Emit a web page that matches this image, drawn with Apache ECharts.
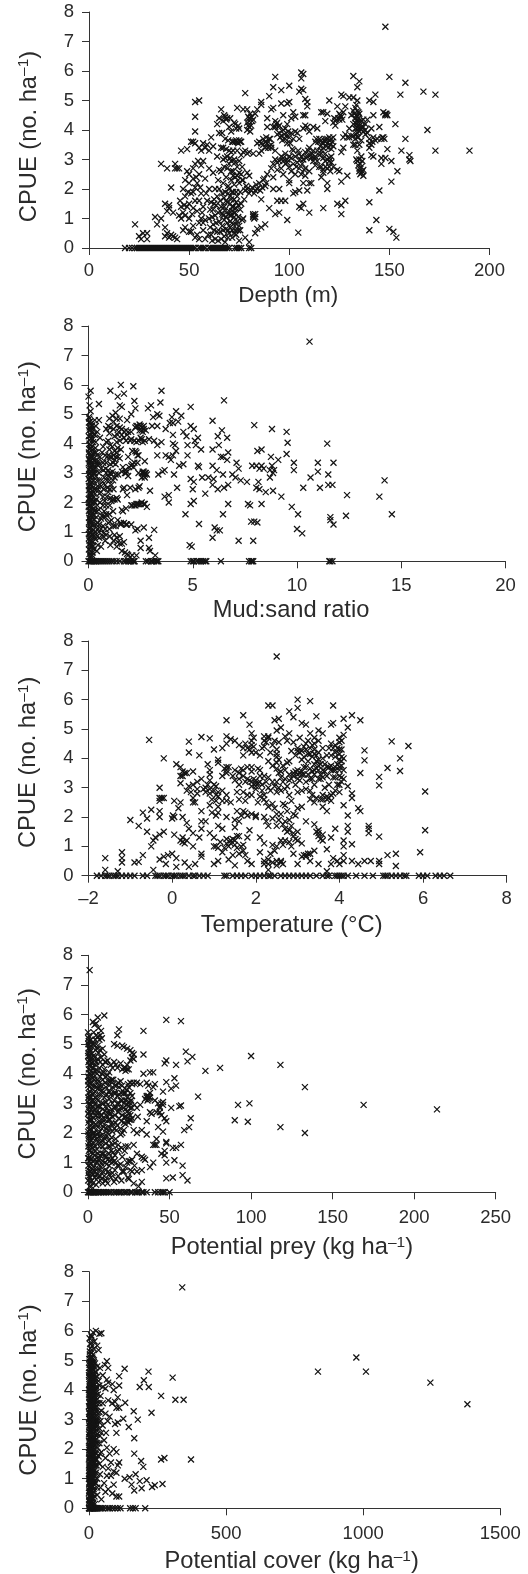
<!DOCTYPE html>
<html><head><meta charset="utf-8">
<style>html,body{margin:0;padding:0;background:#fff}#c{width:528px;height:1574px}</style>
<script src="https://cdn.jsdelivr.net/npm/echarts@6/dist/echarts.min.js"></script>
</head><body><div id="c"></div>
<script>
const yTicks = [0,1,2,3,4,5,6,7,8];

const depthZero = [18,20,21.5,23,24,25,26,27,28,29,30,31,32,33,34,35,36,37,38,39,40,41,42,43,44,45,46,47,48,49,50,51,52,53,55,56,57,58,60,61,62,63,64,65,66,67,68,69,70,73,74,75,76,80,81];
const depthPts = [[148,7.5],[150,5.8],[158,5.6],[167,5.3],[173,5.2],[155.5,5.2],[153,4.2],[169,4],[158,3.7],[156,3.3],[173,3.3],[190,3.3],[160,3],[160,3.15],[160.5,2.95],[154,2.6],[151,2.95],[151,2.25],[145,1.95],[140,1.55],[143.5,0.95],[140,0.6],[150,0.65],[152,0.55],[153.5,0.35],[126,1.15],[128,1.6],[124,1.5],[126,1.45],[117,1.35],[104.5,0.52],[105,1.4],[106,1.35],[107,1.5],[110,1.2],[99,0.95],[95,1.2],[93,1.15],[90,1.35],
[23,0.8],[25,0.4],[26,0.3],[27,0.5],[29,0.5],[29,0.3],[33,1.05],[34,0.8],[36,1],[36,2.85],[38,1.5],[38,0.7],[38,0.4],[39,2.7],[39,1.25],[40,1.35],[41,2.05],[41,0.45],[42,0.4],[43,0.35],[43,2.85],[43,2.7],[44,2.7],[45,2.7],[46,1.4],[45,1.1],[46,1],[46,3.3],[47,2],[47,0.6],[48,2.3],[48,1.75],[48,0.7],[49,3.35],[49,2.6],[50,2.2],[50,1.5],[50,1],[51,1.85],[51,0.55],[52,3.6],[52,2.7],[52,2.35],[52,1.35],[53,4.95],[53,4.45],[53,3.95],[53,3.55],[53,2.85],[53,2.05],[54,1.25],[54,0.45],[55,5],[55,3.4],[55,2.5],[55,0.85],[56,3.3],[56,2.8],[56,1.85],[56,1],[57,3.55],[57,1.4],[57,0.6],[58,2.35],[58,0.3],[59,3.5],[59,1.6],[60,3.3],[60,2.7],[60,2],[60,1],[61,3.75],[61,1.55],[61,0.45],[62,3.45],[62,2.55],[62,1.3],[62,0.8],[63,2],[63,1.1],[63,0.3],[64,4.2],[64,3.1],[64,1.75],[64,0.55],[65,4.4],[65,3.9],[65,2.65],[65,2],[65,0.9],[66,4.7],[66,3.4],[66,2.6],[66,1.4],[66,0.3],[67,4.3],[67,3],[67,2.2],[67,1.1],[67,0.6],[68,4.45],[68,3.7],[68,3.05],[68,1.9],[68,1.3],[68,0.2],[69,4.4],[69,3.1],[69,1.55],[69,0.85],[70,4.1],[70,3.3],[70,2],[70,1.25],[70,0.5],[71,3.95],[71,2.95],[71,2.3],[71,1.65],[71,1.1],[72,3.6],[72,2.6],[72,1.9],[72,1.4],[72,0.8],[73,4.2],[73,3.6],[73,2.4],[73,1.2],[73,0.6],[74,4.75],[74,3.6],[74,2.75],[74,1.75],[74,0.9],[75,4.05],[75,3.65],[75,2.2],[75,0.75],[75,0.25],[76,3.6],[76,2.5],[76,1.5],[77,4.7],[77,3.25],[77,2.3],[77,1],[78,5.25],[78,1.95],[78,0.35],[79,4.7],[79,4],[79,2.55],[79,2],[80,4.4],[80,4.3],[80,3.25],[80,2.45],[80,1.85],[80,0.2],[81,4.15],[81,1.95],[82,4.35],[82,3.2],[82,1.1],[82,1.05],[83,4.55],[83,1.15],[83,0.5],[83,1.95],[84,4.7],[84,2],[84,0.65],[85,3.6],[85,3.2],[85,2.2],[86,4.95],[86,4.85],[86,1.65],[86,0.7],[87,3.7],[87,2.3],[88,3.6],[88,2.1],[88,0.8],[89,4.1],[89,3.55],[89,2.5],[89,4.4],[90,5.15],[90,3.45],[91,4.7],[91,3.5],[91,2.7],[92,5.45],[92,4.75],[92,2.4],[92,2],[93,5.8],[93,4.1],[93,3.3],[94,4.25],[94,2.9],[94,1.6],[95,4.15],[95,2.95],[95,2],[96,5.35],[96,4.9],[96,3.8],[96,1.6],[97,4.5],[97,2.95],[97,2.5],[98,4.05],[98,3.7],[98,1.6],[99,4.9],[99,3.55],[99,3],[100,5.5],[100,4.95],[100,2.3],[100,2.2],[101,4.4],[101,3.9],[101,2.6],[102,4.6],[102,3.3],[102,1.85],[103,4.45],[103,3.1],[103,1.9],[104,3.9],[104,2.9],[105,5.3],[105,3.2],[105,1.95],[106,5.95],[106,5.75],[106,5.4],[106,2.5],[107,5.9],[107,5.35],[107,4.5],[107,3],[107,2.2],[108,5.05],[108,4.5],[108,3.25],[108,2.7],[108,2.45],[109,4.95],[109,4.8],[109,4.1],[109,3.1],[109,1.95],[110,3.95],[110,2.6],[110,2.2],[111,3.05],[111,2.2],[112,4.1],[112,3.3],[112,2.95],[113,3.6],[113,2.8],[114,4.05],[114,3.3],[115,3.7],[115,2.75],[116,4.6],[116,3.3],[116,2.4],[117,4.6],[117,3.4],[117,2.55],[118,4.3],[118,3.6],[118,3.2],[119,4.55],[119,3.55],[119,2.2],[119,2],[120,5],[120,3.65],[120,3.05],[120,2.75],[121,3.7],[121,3.1],[122,4.25],[122,3.75],[122,2.75],[123,4.15],[124,4.8],[124,2.65],[125,4.35],[125,2.6],[126,5.2],[126,4.45],[126,3.25],[126,2.25],[127,5.15],[127,4.6],[127,3.4],[128,3.85],[129,3.75],[129,2.45],[130,5.1],[131,3.8],[132,5.83],[132,5.1],[133,4.75],[133,4.4],[133,4.05],[133,3.7],[134,5.45],[134,5],[134,4.65],[134,4.3],[134,3.9],[134,2.95],[135,5.65],[135,4.55],[135,4.15],[135,3.5],[135,3],[135,2.6],[136,4.3],[136,3.65],[136,3.1],[136,2.75],[137,4.1],[137,2.65],[137,2.45],[138,4.2],[139,4.35],[139,3.9],[140,5],[140,3.55],[141,3.5],[141,3.15],[142,4.5],[142,3.1],[142,4.95],[143,5.2],[143,3.65],[145,4.1],[146,2.85],[147,3.75],[147,4.6],[148,4.5],[148,3.05],[149,4.5],[149,3.35]];
const depthDense = [[60.5,0.7],[61.5,1.05],[62.5,1.5],[63.5,0.85],[64.5,1.2],[64.5,0.25],[65.5,1.6],[66.5,0.75],[67.5,1.7],[67.5,0.95],[68.5,2.4],[68.5,0.65],[69.5,2.1],[69.5,1.15],[69.5,0.35],[70.5,1.75],[70.5,1.5],[70.5,0.9],[71.5,1.4],[71.5,1.25],[71.5,0.6],[72.5,2.15],[72.5,1.65],[72.5,1.05],[73.5,1.55],[73.5,1.35],[73.5,0.45],[74.5,1.05],[74.5,2.3],[75.5,1.3],[75.5,0.6],[76.5,0.95],[68.5,3.35],[69.5,3.65],[70.5,3.05],[71.5,3.6],[72.5,3],[73.5,3.65],[74.5,3.55],[75.5,3.6],[76.5,2.75],[74,2.45],[75,2.55],[72,2.45],[71,2.6],[66.5,3.9],[67.5,4.5],[68.5,4.35],[70.5,4.4],[72.5,4.25],[73.5,4.05],[74.5,4.15],[79.5,4.45],[80.5,4.55],[81.5,4.3],[79,4.25],[80.5,3.95],[81.5,2.05],[82.5,1.85],[83.5,2.15],[85.5,1.95],[86.5,2.05],[87.5,2.35],[88.5,2.2],[82,1.15],[82.5,1],[83,1.05],
[86,3.55],[87,3.5],[88.5,3.75],[89.5,3.4],[90.5,3.7],[91,3.4],[93.5,4.2],[94.5,4.1],[95.5,3.75],[96.5,3.65],[97.5,3.85],[98.5,3.8],[99.5,3.95],[100.5,3.55],[101.5,3.35],[96,3.1],[97,3.05],[98,2.85],[99,2.9],[100,3.1],[101,3.05],[102,2.85],[103.5,2.75],[104.5,3.3],[105.5,3],[106.5,2.85],[107.5,2.65],[108.5,3.05],[109.5,3.3],[110.5,3.15],[111.5,3.2],[112.5,3.05],[113.5,3.7],[114.5,3.6],[115.5,3.45],[116.5,3.55],[117.5,3.65],[118.5,3.45],[119.5,3.4],[120.5,3.5],[121.5,3.6],[116,3.2],[117,3.05],[118,2.95],[119,3],[120,2.95],[121,2.9],[116,2.75],[117,2.65],[118,2.75],[119,2.7],[120.5,2.6],[122.5,4.4],[123.5,4.35],[124.5,4.4],[125.5,4.5],[126.5,4.35],[132.5,4.55],[133,4.25],[133.5,4.85],[133.5,4.5],[133.5,4.2],[133.5,3.85],[134,4.45],[134,4.1],[134,3.75],[134.5,4.6],[134.5,4.4],[134.5,4.05],[134.5,3.75],[135,4.3],[135,3.95],[135.5,4.05],[136,4.1],[137,3.95],[138,4],[132,4.65],[132,4.2],[132,3.8],[133,3.5],[134.5,2.8],[135.5,2.85],[136.5,2.95],[135,2.7],[136,2.55],[141.5,3.6],[142,3.75],[146.5,3.75],[146,3.7],[147.5,3.7],[148.5,4.55],[148,4.55],[50,2.5],[51,3.6],[52,1.9],[53,1.6],[54,2.2],[55,1.6],[57,2.95],[58,3.4],[40,1.45],[39,0.5],[40,0.35],[42,1.2],[44,0.3],[47,1.2],[48,1.1],[49,1.4],[50,0.55],[52,0.75],[53,0.35],[55,0.3],[57,0.85],[58,0.95]];
const depthMore = [[45.5,1.6],[47.5,1.45],[49.5,1.9],[51.5,1.15],[53.5,2.4],[54.5,2.95],[55.5,2.05],[56.5,1.2],[58.5,1.85],[59.5,0.45],[60.5,1.3],[61.5,0.25],[62.5,0.6],[62.5,1.65],[63.5,1.45],[64.5,2.3],[65.5,0.55],[65.5,1.25],[66.5,1.15],[66.5,1.85],[67.5,0.4],[67.5,1.4],[68.5,1.05],[68.5,1.6],[69.5,0.6],[69.5,1.85],[70.5,0.7],[70.5,1.1],[71.5,0.35],[71.5,0.85],[71.5,1.9],[72.5,0.5],[72.5,1.2],[73.5,0.8],[73.5,1.9],[74.5,1.45],[74.5,0.6],[75.5,1.9],[76.5,2.3],[77.5,1.65],[78.5,2.1],[67,3.4],[67.5,2.75],[69,2.7],[70,2.85],[71,3.25],[72,3.3],[73,2.9],[74,3.3],[75,2.95],[76,3.15],[78,3.3],[79,3.2],[79.5,4.15],[80,4.1],[81,4.45],[84,3.55],[86,3.3],[88,3.4],[90,3.7],[92,4.1],[93,4.3],[94,3.85],[95,3.9],[97,4],[99,4.2],[100,3.75],[102,3.7],[103,3.95],[105,3.7],[92,2.85],[93,3],[94,2.65],[96,2.7],[98,3.2],[100,2.75],[103,2.5],[105,2.7],[106,3.1],[107,4.05],[108,4.15],[110,3.4],[113,3.1],[114,2.95],[115,3.15],[116,3.65],[118,3.7],[119,3.7],[120,3.75],[121,3.35],[122,3.45],[123,4.3],[125,4.55],[127,3.75],[128,4.8],[130,3.75],[130,4.05],[131,4.5],[132,3.5],[133.5,3],[134,3.3],[135.5,2.5],[136.5,2.6],[137,4.35],[138,3.85],[140,3.4],[140,3.7],[141,4.05],[144,3.7],[146,3.05]];

const mudZero = [0,0.05,0.1,0.15,0.2,0.25,0.3,0.35,0.4,0.5,0.6,0.7,0.8,0.9,1,1.1,1.2,1.35,1.5,1.7,1.8,1.9,2,2.05,2.15,2.2,2.2,2.75,2.85,3,3.05,3.15,3.25,3.3,3.35,4.9,5,5.05,5.2,5.3,5.4,5.5,5.6,5.65,6.35,7.7,7.8,7.85,7.9,11.55,11.6,11.7];
const mudPts = [[10.6,7.47],[0.1,5.8],[1.05,5.8],[1.55,6],[2.15,5.95],[1.7,5.7],[1.4,5.6],[2.2,5.45],[3.5,5.8],[0.5,5.35],[3,5.3],[3.45,5.4],[2.85,5.2],[4.9,5.25],[6.5,5.47],[4.2,5.1],[4,4.9],[4.45,4.95],[3.3,5],[3.4,4.95],[3.1,4.9],[5.95,4.78],[7.95,4.63],[8.8,4.5],[9.5,4.4],[9.55,4.03],[9.5,3.65],[8.75,3.55],[9.1,3.45],[9.85,3.35],[9.85,3.1],[11.45,4],[11,3.35],[11.75,3.35],[11,3.05],[11.5,2.95],[10.65,2.85],[10.3,2.5],[11.1,2.5],[11.5,2.6],[11.7,2.6],[12.4,2.25],[13.95,2.2],[14.2,2.75],[14.55,1.6],[12.35,1.55],[11.6,1.5],[11.6,1.4],[11.75,1.25],[10.05,1.6],[9.75,1.85],[9.25,2.2],[8.85,2.4],[10,1.1],[10.25,0.95],
[0,5.6],[0.05,5.3],[0.1,5.1],[0.02,4.9],[0.08,4.75],[0.15,4.6],[0.03,4.45],[0.12,4.3],[0.2,4.15],[0.05,4],[0.1,3.85],[0.02,3.7],[0.18,3.6],[0.25,3.5],[0.06,3.4],[0.14,3.25],[0.03,3.1],[0.22,3],[0.09,2.85],[0.16,2.7],[0.02,2.55],[0.28,2.45],[0.11,2.3],[0.05,2.15],[0.19,2],[0.01,1.85],[0.13,1.7],[0.24,1.55],[0.07,1.4],[0.17,1.25],[0.03,1.1],[0.1,0.95],[0.26,0.85],[0.05,0.7],[0.14,0.55],[0.02,0.4],[0.2,0.3],[0.09,0.15],[0.3,4.8],[0.35,4.05],[0.4,3.6],[0.35,3.2],[0.4,2.75],[0.32,2.3],[0.42,1.9],[0.38,1.5],[0.45,1.1],[0.33,0.75],[0.4,0.35],[0.5,4.8],[0.55,4.2],[0.55,3.55],[0.5,3],[0.6,2.55],[0.55,2],[0.6,1.45],[0.5,1],[0.6,0.5],[0.7,3.9],[0.7,3.35],[0.75,2.85],[0.7,2.2],[0.75,1.7],[0.7,1.2],[0.8,0.7],[0.85,4.5],[0.85,4.05],[0.9,3.55],[0.85,3],[0.9,2.5],[0.85,1.9],[0.95,1.3],[0.85,0.9],[1,4.85],[1,4.35],[1,3.8],[1.05,3.3],[1,2.75],[1.05,2.15],[1,1.6],[1,1.1],[1.05,0.55],[1.15,4.95],[1.2,4.5],[1.15,3.9],[1.2,3.6],[1.15,3.05],[1.2,2.45],[1.15,2.1],[1.2,1.2],[1.2,0.7],[1.3,5.05],[1.35,4.6],[1.35,4.05],[1.35,3.7],[1.3,3.3],[1.35,2.15],[1.35,0.5],[1.5,5.3],[1.5,4.85],[1.45,4.4],[1.55,3.8],[1.4,1.4],[1.5,0.85],[1.6,5.25],[1.6,4.5],[1.55,1.3],[1.6,0.35],[1.7,4.2],[1.75,3.1],[1.7,2.5],[1.65,1.7],[1.7,0.65],[1.85,4.8],[1.8,4.45],[1.8,4.1],[1.9,3.55],[1.8,3],[1.85,2.25],[1.8,1.8],[1.85,1.25],[1.85,0.25],[2.05,5],[2.05,4.4],[2,4.1],[2.05,3.25],[2,2.5],[2.05,1.9],[2.05,1.25],[2.1,0.2],[2.25,5.2],[2.3,4.6],[2.2,4.1],[2.25,3.75],[2.2,3.35],[2.25,2.45],[2.2,1.9],[2.25,1.05],[2.45,4.65],[2.5,4.2],[2.4,3.6],[2.4,3],[2.45,2.55],[2.4,1.95],[2.35,1.1],[2.5,0.7],[2.5,0.45],[2.65,4.6],[2.6,4.05],[2.7,3.4],[2.6,3],[2.55,2.85],[2.65,1.95],[2.65,1.15],[2.7,2.95],[2.8,1.85],[2.9,4.15],[2.9,0.8],[2.9,0.45],[2.95,2.4],[2.95,0.35],[3.05,4.6],[3.15,4.1],[3.15,1.07],[3.2,0.2],[3.3,4.6],[3.3,3.95],[3.3,3.6],[3.35,2.95],[3.5,4.05],[3.55,3.05],[3.65,3.1],[3.65,2.2],[3.7,4.5],[3.7,3.6],[3.85,3.55],[3.85,2.25],[3.85,2],[3.9,4.7],[3.95,3.45],[4.05,4.7],[4.05,4.3],[4.05,4],[4.05,3.6],[4.1,2.95],[4.2,3.75],[4.15,3.95],[4.25,2.5],[4.3,4.75],[4.35,3.25],[4.55,4.4],[4.55,3.3],[4.65,1.6],[4.7,4.25],[4.75,3.95],[4.75,3.6],[4.85,0.55],[4.9,4.6],[4.9,2.8],[4.9,1.95],[4.95,0.5],[5.05,4.5],[5.05,2.7],[5,2.45],[5.05,2.05],[5.1,4.1],[5.15,3.95],[5.25,4.2],[5.25,3.25],[5.3,1.27],[5.3,3.2],[5.4,3.8],[5.45,2.85],[5.6,2.3],[5.75,2.85],[5.95,3.8],[5.95,3.25],[5.95,2.6],[6,2.8],[5.95,0.8],[6.05,1.15],[6.15,3.1],[6.15,1.05],[6.2,2.45],[6.2,4.25],[6.25,3.95],[6.3,1.05],[6.35,3.55],[6.4,4.45],[6.45,3.55],[6.45,2.95],[6.45,1.6],[6.5,2.5],[6.65,4.2],[6.65,3.45],[6.7,3.7],[6.7,2.6],[6.7,1.95],[6.9,2.95],[7.05,2.85],[7.1,3.35],[7.2,3.15],[7.2,0.7],[7.3,2.75],[7.6,2.7],[7.65,1.95],[7.75,1.9],[7.8,1.35],[7.85,3.25],[7.9,0.7],[7.95,1.35],[8.05,3.25],[8.05,2.5],[8.1,3.75],[8.1,1.32],[8.15,2.7],[8.2,3.15],[8.2,2.45],[8.3,3.8],[8.3,3.25],[8.3,1.95],[8.4,3.15],[8.5,2.35],[8.7,3.1],[8.7,2.85],[8.8,3.25],[8.85,3],[8.9,3.1]];
const mudDense = [[0.04,4.85],[0.12,4.68],[0.06,4.55],[0.2,4.5],[0.15,4.38],[0.01,4.25],[0.1,4.18],[0.22,4.05],[0.08,3.95],[0.16,3.78],[0.28,3.72],[0.05,3.62],[0.13,3.52],[0.3,3.42],[0.01,3.33],[0.2,3.28],[0.1,3.18],[0.27,3.1],[0.07,3.02],[0.16,2.94],[0.01,2.8],[0.25,2.75],[0.12,2.62],[0.05,2.48],[0.2,2.38],[0.08,2.24],[0.15,2.1],[0.25,2.05],[0.03,1.98],[0.12,1.9],[0.2,1.78],[0.06,1.62],[0.16,1.52],[0.28,1.42],[0.02,1.32],[0.1,1.18],[0.22,1.05],[0.06,1],[0.14,0.85],[0.02,0.78],[0.2,0.65],[0.1,0.48],[0.27,0.42],[0.05,0.25],[0.15,0.1],[0.35,4.6],[0.42,4.4],[0.33,3.85],[0.45,3.4],[0.3,3],[0.45,2.55],[0.38,2.1],[0.3,1.7],[0.45,1.3],[0.35,1],[0.45,0.55],[0.65,3.7],[0.6,3.15],[0.68,2.7],[0.6,2.35],[0.7,1.9],[0.65,1.55],[0.6,1.1],[0.7,0.85],[0.8,3.6],[0.82,3.15],[0.8,2.6],[0.78,2.05],[0.8,1.5],[0.8,1.1],[0.95,4.6],[0.95,4.1],[0.95,3.6],[0.95,3.1],[0.95,2.9],[0.95,2.35],[1.05,4.55],[1.05,3.95],[1.1,3.55],[1.1,2.95],[1.1,2.6],[1.1,2.05],[1.1,1.4],[1.2,4.75],[1.25,4.25],[1.25,3.75],[1.25,3.45],[1.25,2.85],[1.25,2.1],[1.25,0.9],[1.35,4.85],[1.4,4.3],[1.4,3.85],[1.4,3.55],[1.4,2.1],[1.35,0.8],[1.5,4.55],[1.5,4.1],[1.6,4.3],[1.7,4.4],[1.9,4.4],[1.95,3.2],[1.85,3.05],[1.9,2.9],[1.75,3],[2.1,3.3],[2.15,3.2],[2.3,3.7],[2.35,3.6],[2.45,4.45],[2.5,4.6],[2.55,4.55],[2.6,4.4],[2.65,4.5],[2.55,4.15],[2.6,3.05],[2.65,2.9],[2.7,3],[2.65,3.05],[2.5,1.95],[2.55,2],[2.35,1.95],[2.25,1.9],[2.1,1.9],[1.6,1.75],[1.55,1.25],[1.7,1.3],[1.8,1.25],[2.3,0.2],[2,0.15],[1.9,0.2],[1.75,0.3],[1.4,0.65],[1.5,0.6],[1.6,0.6]];
const mudMore = [[0.02,4.72],[0.18,4.62],[0.09,4.48],[0.25,4.32],[0.04,4.12],[0.17,3.88],[0.03,3.82],[0.23,3.65],[0.11,3.58],[0.02,3.47],[0.19,3.38],[0.08,3.3],[0.25,3.2],[0.13,3.05],[0.03,2.97],[0.2,2.88],[0.06,2.72],[0.14,2.55],[0.23,2.52],[0.02,2.42],[0.09,2.35],[0.17,2.28],[0.01,2.12],[0.22,2.16],[0.1,2.02],[0.05,1.88],[0.17,1.85],[0.27,1.72],[0.02,1.72],[0.09,1.55],[0.2,1.45],[0.04,1.48],[0.13,1.32],[0.24,1.22],[0.08,1.12],[0.16,1.02],[0.02,0.92],[0.21,0.92],[0.08,0.82],[0.16,0.7],[0.03,0.58],[0.23,0.52],[0.09,0.35],[0.18,0.2],[0.32,4.3],[0.36,3.7],[0.42,3.3],[0.36,2.9],[0.4,2.45],[0.32,2],[0.4,1.7],[0.36,1.25],[0.42,0.85],[0.52,3.3],[0.5,2.75],[0.52,2.3],[0.5,1.75],[0.52,1.25],[0.52,0.8],[0.72,3.1],[0.72,2.45],[0.7,1.5],[0.72,0.95],[0.85,3.35],[0.88,2.75],[0.88,2.2],[0.85,1.6],[1.02,3.55],[1.02,3],[1.02,2.45],[1.02,1.9],[1.02,1.35],[1.02,0.85],[1.18,3.35],[1.18,2.75],[1.18,1.7],[1.3,3.55],[1.3,2.95],[1.3,1.2],[1.42,2.95],[1.5,3.5],[1.6,3.05],[1.65,3.2],[1.65,2.45],[1.85,4.3],[2.05,4.15],[2.1,3.75],[2.25,4.55],[2.3,4.05],[2.4,4.1],[2.35,4.6],[2.55,4.45],[2.75,4.45],[2.7,4.1],[2.75,3],[2.8,2.95],[2.7,2.85],[2.7,1.95],[2.3,1.95],[2.4,2.5],[2.35,3.35]];

const tempZero = [-1.8,-1.7,-1.6,-1.55,-1.5,-1.4,-1.35,-1.3,-1.2,-1.1,-1,-0.9,-0.7,-0.6,-0.4,-0.35,-0.3,-0.2,-0.15,-0.1,0,0.05,0.1,0.2,0.25,0.3,0.4,0.5,0.55,0.65,0.75,0.85,1.25,1.3,1.45,1.55,1.65,1.75,1.9,2,2.1,2.2,2.3,2.35,2.45,2.6,2.7,2.8,2.9,3,3.1,3.2,3.3,3.45,3.6,3.7,3.75,3.9,3.95,4,4.05,4.1,4.2,4.4,4.6,4.8,5.05,5.1,5.15,5.25,5.35,5.45,5.55,5.6,5.9,6,6.1,6.3,6.4,6.5,6.65];
const tempPts = [[2.5,7.47],[3,6],[3.3,5.95],[2.3,5.8],[2.4,5.8],[3,5.72],[3.85,5.8],[2.8,5.6],[1.7,5.47],[3.45,5.43],[4.3,5.47],[4.1,5.35],[2.55,5.35],[1.3,5.3],[2.45,5.3],[4.5,5.3],[3.8,5.15],[3.85,5.2],[3.1,5.2],[1.85,5.15],[4.2,5.05],[-0.55,4.63],[0.4,4.57],[0.7,4.73],[0.9,4.68],[1.3,4.75],[5.25,4.58],[5.65,4.42],[4.6,4.27],[4.6,3.93],[5.45,4],[5.45,3.57],[5.15,3.67],[4.95,3.37],[4.95,3.08],[6.05,2.87],[6.05,1.55],[5.93,0.8],[5.15,0.7],[5.35,0.75],[5.35,0.33],[4.95,0.5],[4.95,0.4],[4.75,0.5],[4.6,0.5],[4.45,0.4],[4.3,0.5],[4.95,1.33],[4.3,1.07],[4.7,1.6],[4.7,1.45],[4.7,1.7],[4.45,2.3],[4.5,2.2],[4.5,3.5],[4.3,2.8],[4.3,2.65],[4.2,3.05],[4.2,2.05],[4.2,1.7],[4.2,1.5],[4.1,1.2],[4.1,1],[4.1,0.7],[-1.6,0.6],[-1.6,0.2],[-1.2,0.8],[-1.2,0.6],[-1.2,0.45],[-1.3,0.15],[-0.9,0.45],[-0.8,0.47],[-0.7,0.7],[-0.45,0.2],[-1,1.9],[-0.8,1.7],[-0.7,2.15],[-0.6,1.95],[-0.6,1.5],[-0.5,2.25],[-0.5,1],[-0.45,1.2],[-0.4,1.3],[-0.3,2.2],[-0.3,2],[-0.3,1.4],[-0.3,0.55],[-0.3,3],[-0.3,2.65],[-0.2,2.65],[-0.2,4],[-0.2,1.5],[-0.2,0.65],[-0.15,0.4],[-0.1,0.7],[0,0.75],[0.05,1.4],[0.05,2],[0.05,2.55],[0.1,3.8],[0.1,0.6],[0.1,0.3],[0.15,2.3],[0.2,3.7],[0.2,3.15],[0.2,2.5],[0.25,2],[0.25,1.3],[0.25,1.15],[0.3,0.45],[0.3,3.5],[0.35,3.5],[0.35,2.9],[0.35,1.8],[0.4,4.2],[0.4,1.6],[0.4,0.3],[0.5,3.55],[0.5,3.1],[0.5,2.5],[0.5,1.45],[0.5,1],[0.55,0.4],[0.6,3.2],[0.6,2.8],[0.65,4.1],[0.7,3.3],[0.7,2.2],[0.7,1.6],[0.7,1.85],[0.7,0.75],[0.7,0.65],[0.8,3],[0.8,2.85],[0.8,1.85],[0.85,3.8],[0.9,3.6],[0.9,3.25],[0.9,2.95],[0.9,2.4],[0.9,1.45],[0.95,2.15],[1,4.3],[1,3.1],[1,1.3],[1,0.4],[1.05,2.05],[1.05,1],[1.1,3.95],[1.1,3.85],[1.1,2.7],[1.1,1.7],[1.1,0.95],[1.1,0.5],[1.2,4.35],[1.2,3.4],[1.2,2.9],[1.2,1.6],[1.2,0.8],[1.3,4.5],[1.3,3.7],[1.3,3.5],[1.3,2.55],[1.3,2],[1.3,1.1],[1.35,0.55],[1.4,4.65],[1.4,2.5],[1.4,1.2],[1.5,4.6],[1.5,3.6],[1.5,1.9],[1.5,1.05],[1.5,0.35],[1.6,4.45],[1.6,3.3],[1.6,2.6],[1.6,1.35],[1.6,0.75],[1.7,4.1],[1.7,3.6],[1.7,2.2],[1.7,1.05],[1.8,4.35],[1.8,3.3],[1.8,2.05],[1.8,1.3],[1.8,0.5],[1.9,4.85],[1.9,4.45],[1.9,3.7],[1.9,3.2],[1.9,2.75],[1.9,0.4],[2,4.2],[2,3.15],[2,2.95],[2,2],[2.1,4.1],[2.1,3.4],[2.1,2.7],[2.1,1.3],[2.1,0.8],[2.2,4.75],[2.2,4.4],[2.2,3.4],[2.2,2.6],[2.2,2],[2.2,1.1],[2.2,0.4],[2.3,4.7],[2.3,3.9],[2.3,3],[2.3,1.7],[2.3,0.55],[2.3,0.2],[2.4,4.45],[2.4,3.2],[2.4,2.45],[2.4,1.95],[2.4,1.05],[2.5,4.3],[2.5,4.95],[2.5,3.85],[2.5,2.85],[2.5,1.7],[2.5,1],[2.6,5.05],[2.6,3.55],[2.6,2.9],[2.6,2.1],[2.6,1.2],[2.6,0.45],[2.7,4.75],[2.7,3.3],[2.7,2.4],[2.7,1.6],[2.8,4.85],[2.8,3.9],[2.8,3.45],[2.8,2.75],[2.8,1.9],[2.8,1.15],[2.9,5.4],[2.9,4.55],[2.9,3.5],[2.9,2.1],[2.9,1.35],[2.9,0.75],[3,4.25],[3,3.6],[3,3.45],[3,1.5],[3,0.4],[3.1,4.25],[3.1,3.45],[3.1,2.35],[3.1,0.65],[3.2,5.15],[3.2,4.5],[3.2,3.7],[3.2,2.95],[3.2,1.85],[3.2,0.7],[3.3,4.85],[3.3,3.65],[3.3,2.6],[3.3,0.5],[3.4,4.5],[3.4,4.15],[3.4,3.45],[3.4,2.5],[3.4,1.75],[3.4,0.85],[3.5,4.95],[3.5,3.75],[3.5,3.3],[3.5,1.35],[3.5,0.4],[3.6,4.85],[3.6,4],[3.6,2.75],[3.6,1.4],[3.7,3.7],[3.7,2.6],[3.7,2.2],[3.7,0.9],[3.7,0.15],[3.8,4.5],[3.8,3.6],[3.8,2.75],[3.8,1.3],[3.8,0.4],[3.85,0.6],[3.9,4.2],[3.9,3.6],[3.9,2.9],[3.9,1.6],[3.95,0.5],[4,4.7],[4,4.3],[4,3.7],[4,3.1],[4,0.4],[4.05,4.05],[4.1,4.8],[4.1,4],[4.1,3.6],[4.1,2.4],[4.1,0.5]];
const tempDense = [[1.7,4.35],[1.75,4.5],[1.85,4.3],[1.9,4.6],[1.9,4.2],[1.95,4.4],[1.7,3.4],[1.75,3.2],[1.85,3.25],[1.9,3.05],[1.95,3.3],[2,3.25],[2,3.05],[2.05,3.15],[2.1,3.2],[2.15,2.9],[2.2,2.75],[2.2,4.6],[2.25,4.55],[2.25,2.5],[2.3,4.75],[1.3,3.6],[1.35,3.7],[1.3,1.25],[1.4,1.1],[1.45,1.25],[1.5,1.2],[1.55,0.95],[1.65,1],[1.7,0.85],[1.6,3.5],[1.65,3.65],[1.6,3.1],[1,2.9],[1.05,2.75],[1.05,2.55],[1.1,2.35],[1.1,2.15],[0.9,2.8],[0.9,3.45],[1.65,2.05],[1.75,2.15],[1.9,2.1],[2,2.05],[2.5,4.15],[2.5,4.05],[2.5,3.65],[2.5,3.2],[2.55,3.5],[2.55,3],[2.65,3.2],[2.7,2.95],[2.75,3.05],[2.5,2.1],[2.55,1.9],[2.65,1.75],[2.7,1.85],[2.75,1.5],[2.8,1.55],[2.85,1.7],[2.9,1.45],[2.95,1.25],[2.7,1.2],[2.4,0.45],[2.5,0.5],[2.2,0.5],[2.3,0.4],[2.6,0.5],[2.65,0.4],[2.9,3.4],[2.95,3.55],[3,3.3],[3.05,3.5],[3.1,3.55],[3.15,3.45],[3,4.35],[3.05,4.2],[3.15,4.4],[3.2,4.3],[3.25,4.6],[3.3,4.35],[3.3,4.15],[3.35,4.45],[3.35,4.05],[3.4,4.3],[3.45,4.1],[3.45,3.9],[3.45,3.65],[3.4,3.8],[3.4,3.6],[3.5,4.2],[3.5,3.95],[3.5,3.6],[3.55,3.8],[3.55,3.45],[3.55,3.3],[3.35,3.3],[3.6,3.6],[3.65,3.55],[3.75,3.7],[3.8,3.75],[3.85,3.6],[3.9,3.7],[4,4.55],[4,4.15],[4,3.95],[4,3.6],[4.05,4.3],[4.05,3.9],[3.95,4.35],[3.9,4.05],[3.6,2.6],[3.7,2.7],[3.75,2.65],[3.8,2.55],[3.85,2.8],[3.45,1.5],[3.5,1.45],[3.55,1.25],[3.2,0.65],[3.25,0.75],[3.15,0.7],[4.05,3.35],[4.05,3.2],[0.5,2.65],[0.55,2.5],[0.25,3.55],[0.2,3.4],[0.25,3.4],[-0.25,2.65],[-0.3,2.55],[0,1.95],[0.02,2.05],[0.2,1.2],[0.3,1.1],[0.35,1.2]];
const tempMore = [[1.05,3.05],[1.1,2.85],[1.2,2.55],[1.25,3.65],[1.3,2.75],[1.45,3.4],[1.5,3.25],[1.55,2.85],[1.55,2.2],[1.5,1.65],[1.6,1.85],[1.7,2.85],[1.75,2.55],[1.8,3.7],[1.8,2.75],[1.85,1.55],[1.9,3.55],[1.95,4.7],[2.05,3.65],[2.05,2.5],[2.1,3.6],[2.15,4.35],[2.15,3.1],[2.25,3.2],[2.25,1.85],[2.3,3.35],[2.3,2.35],[2.35,4.2],[2.35,2.9],[2.4,3.75],[2.45,4.6],[2.45,3.05],[2.45,2.3],[2.55,4.55],[2.55,3.95],[2.6,3.35],[2.65,3.75],[2.65,2.45],[2.7,3.6],[2.75,4.6],[2.75,3.85],[2.75,2.2],[2.8,3.25],[2.85,4.25],[2.85,3.3],[2.85,2.55],[2.95,4.1],[2.95,3.1],[2.95,2.05],[3,2.85],[3,2.3],[3.05,4.7],[3.05,3.25],[3.1,3.95],[3.1,2.9],[3.15,4.05],[3.15,3.7],[3.2,3.2],[3.25,4.15],[3.25,3.9],[3.25,3.45],[3.3,3.3],[3.3,2.9],[3.35,3.55],[3.35,2.75],[3.4,4.7],[3.4,3.1],[3.45,2.65],[3.5,4.6],[3.55,2.6],[3.6,4.35],[3.6,3.35],[3.6,2.35],[3.65,3.8],[3.65,3],[3.7,4.1],[3.7,3.4],[3.75,4.35],[3.75,3.1],[3.8,4.1],[3.85,4.35],[3.85,3.35],[3.9,4.45],[3.9,3.35],[3.95,3.8],[3.95,3.1],[4,3.4],[4,2.85],[4.05,4.6],[4.05,3.75],[4.1,3.3],[0.4,3.05],[0.45,2.85],[0.6,2.95],[0.75,2.95],[0.85,3.1],[0.95,2.6],[0.65,1.3],[1,1],[1.15,1.15],[1.25,0.95],[1.35,1],[1.45,0.7],[1.55,1.35],[1.75,0.7],[2.35,0.75],[2.45,0.85],[2.5,0.35],[2.65,1.05],[2.85,1],[3,1.2],[3.1,1.1],[3.3,0.75],[3.5,1.55],[3.6,1.2]];

const preyZero = [0,0.5,1,1.5,2,2.5,3,3.5,4,4.5,5,6,6.5,7,8,9,10,11,12,13,14,16,17,18,19,20,22,23,24,26,27,29,30,31,33,34,36,41,43,45,46,47,50];
const preyPts = [[1,7.5],[10,5.97],[6,5.9],[3,5.75],[48,5.82],[57,5.78],[19,5.5],[34,5.45],[18,5.3],[60,4.75],[34,4.65],[100,4.6],[64,4.57],[61,4.42],[48,4.45],[47,4.35],[54,4.3],[118,4.3],[81,4.2],[72,4.1],[53,3.85],[48,3.72],[54,3.6],[133,3.55],[51,3.5],[46,3.4],[67.5,3.23],[99,3],[92,2.95],[57,2.93],[56,2.9],[169,2.95],[214,2.8],[51,2.85],[63,2.5],[90,2.43],[98,2.38],[62,2.2],[59,2.1],[118,2.2],[133,2],[57,1.6],[54,1.5],[52,1.5],[53,1.08],[58,0.9],[58,0.58],[61,0.4],[52,0.5],[48,0.47],
[0,5.4],[0.5,5.1],[1,4.9],[0.3,4.7],[1.5,4.5],[0.7,4.3],[2,4.1],[0.2,3.9],[1.2,3.7],[2.5,3.5],[0.4,3.35],[1.8,3.2],[0.6,3],[2.2,2.8],[0.1,2.65],[1.4,2.45],[2.8,2.3],[0.8,2.1],[0.3,1.95],[1.7,1.75],[2.4,1.6],[0.5,1.4],[1.1,1.2],[2.9,1.05],[0.2,0.9],[1.6,0.7],[0.6,0.55],[2.3,0.4],[1,0.2],[3.5,5.4],[4,5.65],[3.5,5],[4,4.55],[3.5,4.2],[4,3.8],[3.5,3.35],[4,2.95],[3.5,2.5],[4,2],[3.5,1.65],[4,1.25],[3.5,0.85],[4,0.5],[5,5.7],[5,5.3],[5.5,4.85],[5,4.4],[5.5,4],[5,3.55],[5.5,3.15],[5,2.7],[5.5,2.25],[5,1.8],[5.5,1.45],[5,1],[5.5,0.6],[5,0.25],[6.5,5.55],[7,5.15],[6.5,4.7],[7,4.2],[6.5,3.75],[7,3.3],[6.5,2.9],[7,2.4],[6.5,2],[7,1.55],[6.5,1.1],[7,0.75],[6.5,0.35],[8,5.45],[8.5,5.2],[8,4.55],[8.5,4],[8,3.6],[8.5,3],[8,2.6],[8.5,2.15],[8,1.7],[8.5,1.3],[8,0.85],[8.5,0.45],[10,4.65],[10,4.15],[10.5,3.7],[10,3.2],[10.5,2.75],[10,2.3],[10.5,1.8],[10,1.45],[10.5,1],[10,0.55],[12,4.45],[12,3.95],[12.5,3.4],[12,2.95],[12.5,2.45],[12,2],[12.5,1.55],[12,1.1],[12.5,0.7],[12,0.3],[14,4.3],[14.5,3.8],[14,3.3],[14.5,2.8],[14,2.3],[14.5,1.85],[14,1.4],[14.5,1],[14,0.5],[16,5],[16,4.4],[16.5,3.6],[16,3.1],[16.5,2.6],[16,2.15],[16.5,1.65],[16,1.05],[16.5,0.75],[16,0.35],[18,4.95],[18,4.2],[18.5,3.7],[18,3.25],[18.5,2.7],[18,2.25],[18.5,1.6],[18,0.9],[18.5,0.55],[20,4.35],[20,3.75],[20.5,3.35],[20,2.85],[20.5,2.4],[20,1.95],[20.5,1.5],[20,0.95],[20.5,0.4],[22,4.9],[22,4.2],[22.5,3.5],[22,3],[22.5,2.55],[22,2.1],[22.5,1.4],[22,0.7],[24,4.85],[24,4.15],[24.5,3.65],[24,3.2],[24.5,2.75],[24,2.4],[24.5,1.55],[24,1],[24.5,0.5],[26,4.8],[26,4.45],[26,3.7],[26.5,3.1],[26,2.6],[26.5,2.45],[26,1.05],[26,0.75],[28,4.65],[28,4.5],[28,3.7],[28.5,2.95],[28,2.1],[28,1.6],[28.5,0.9],[28,0.3],[30,3.7],[30,2.85],[30.5,2.55],[30,2],[30,1.3],[30,0.7],[31,0.2],[32,3.65],[32,2.95],[33,2.1],[33,1.2],[33,0.75],[33,0.35],[34,4],[34,1.15],[35,3.15],[35,1.1],[36,3.7],[36,3.25],[36,2.4],[36,1.95],[37,3.6],[37,3.15],[38,4.05],[38,3.2],[38,2.7],[38,0.85],[39,2.65],[40,4.05],[40,3.55],[40,1.6],[40,1],[41,3.65],[41,3.1],[41,1.6],[42,2.7],[42,1.8],[42,1.6],[43,3],[43,2.2],[44,2.7],[44,2.9],[45,2.6],[45,1.3],[46,3.05],[46,2.05],[47,2.5],[47,1.4],[47,1.25],[48,2.4],[48,1.7],[48,1.65],[48,1]];
const preyDense = [[0.2,5.2],[0.9,5],[0.4,4.85],[1.4,4.75],[0.1,4.6],[1,4.45],[2.2,4.35],[0.5,4.15],[1.6,4],[0.1,3.75],[2.6,3.85],[0.9,3.55],[1.5,3.4],[0.2,3.2],[2.4,3.1],[1,2.95],[0.3,2.8],[1.9,2.6],[3,2.7],[0.6,2.45],[1.2,2.25],[2.2,2.1],[0.1,2.05],[0.9,1.85],[1.5,1.55],[0.4,1.65],[2,1.35],[0.8,1.05],[0.1,1.15],[1.7,0.95],[2.6,0.8],[0.5,0.75],[1.2,0.5],[0.1,0.4],[2,0.2],[3.2,4.6],[3.2,4],[3.2,3.1],[3.2,2.2],[3.2,1.3],[3.2,0.6],[4.5,5.15],[4.5,4.8],[4.5,4.3],[4.5,3.6],[4.5,3.2],[4.5,2.6],[4.5,2.3],[4.5,1.55],[4.5,1.1],[4.5,0.8],[6,5.25],[6,4.95],[6,4.5],[6,4.1],[6,3.5],[6,3.1],[6,2.55],[6,2.2],[6,1.7],[6,1.3],[6,0.8],[6,0.5],[7.5,5.3],[7.5,4.8],[7.5,4.4],[7.5,3.9],[7.5,3.5],[7.5,2.9],[7.5,2.3],[7.5,1.9],[7.5,1.25],[7.5,0.55],[9,4.85],[9,4.3],[9,3.8],[9,3.35],[9,2.8],[9,2.45],[9,1.95],[9,1.55],[9,1.05],[9,0.7],[9,0.3],[11,4.4],[11,3.9],[11,3.55],[11,3.05],[11,2.6],[11,2.15],[11,1.65],[11,1.2],[11,0.75],[11,0.4],[13,4.05],[13,3.6],[13,3.15],[13,2.65],[13,2.2],[13,1.75],[13,1.3],[13,0.9],[13,0.6],[15,4.2],[15,3.55],[15,3],[15,2.55],[15,2.05],[15,1.6],[15,1.15],[15,0.65],[17,4.3],[17,3.35],[17,2.85],[17,2.35],[17,1.8],[17,1],[17,0.45],[19,3.55],[19,3],[19,2.5],[19,1.45],[19,0.9],[21,4.15],[21,3.6],[21,3.1],[21,2.6],[21,2],[21,1.2],[21,0.7],[23,4.2],[23,3.35],[23,2.8],[23,2.3],[23,1.55],[23,0.85],[25,4.15],[25,3.55],[25,3.05],[25,2.65],[25,2.35],[25,1.05],[25,0.45],[27,3.65],[27,3.25],[27,2.85],[27,2.5],[27,1.1],[27,0.7],[36,3.2],[37,3.25],[36.5,3.1],[37.5,3.2],[38,3.35],[44,2.85],[45,3],[46,2.95]];
const preyMore = [[0.6,5.28],[1.8,5.15],[2.8,5],[0.2,5],[1.2,4.82],[2.6,4.68],[0.7,4.62],[1.9,4.55],[3,4.4],[0.3,4.4],[1.3,4.25],[2.9,4.2],[0.6,4.02],[2.3,3.95],[0.2,3.62],[1.7,3.65],[3.1,3.6],[0.7,3.8],[1.1,3.25],[2.8,3.3],[0.5,3.12],[1.8,2.95],[3.1,2.9],[0.7,2.72],[2.2,2.45],[0.2,2.35],[1.5,2.15],[3.1,2],[0.6,1.9],[2.5,1.85],[1.2,1.7],[0.2,1.55],[2.9,1.5],[1,1.45],[0.5,1.15],[1.9,1.12],[0.3,0.65],[2.2,0.65],[1.1,0.85],[3,0.3],[1.6,0.35],[4.2,4.95],[4.2,4.1],[4.2,3.4],[4.2,2.8],[4.2,1.9],[4.2,1.4],[4.2,0.7],[5.8,3.8],[5.8,2.9],[5.8,1.95],[5.8,1],[7,3.6],[7,2.7],[7,2.05],[7,1.15],[8.5,3.45],[8.5,2.6],[8.5,1.75],[8.5,0.95],[9.5,4.05],[9.5,3],[9.5,2.2],[9.5,1.3],[10.5,4.4],[10.5,2.45],[10.5,1.25],[10.5,0.4],[11.5,3.3],[11.5,2.85],[11.5,1.9],[11.5,0.95],[12.5,3.75],[12.5,2.75],[12.5,2.1],[13.5,3.4],[13.5,2.45],[13.5,1.55],[14,3.75],[14,2.65],[14,1.1],[15.5,3.8],[15.5,2.3],[15.5,1.35],[16,3.35],[16,2.85],[16.5,1.25],[17.5,3.6],[17.5,2.1],[18,3],[18,1.4],[19,2.8],[19,3.3],[20,3.1],[20,2.15],[21.5,2.85],[22,3.35],[22,2.35],[23,3.1],[23.5,2.55],[24,3.45],[24,2.95],[25,2.9],[25.5,2.45],[26,3.35],[26,3],[26,2.85],[27,4.7],[27,4.55],[24,4.3],[23,4.1],[21,4.95]];

const coverZero = [0,1,2,3,4,5,6,8,10,12,14,15,16,18,20,22,25,28,30,35,40,45,50,60,70,75,85,95,105,115,150,160,170,205];
const coverPts = [[340,7.47],[975,5.1],[835,4.62],[1010,4.62],[1245,4.25],[1380,3.52],[130,4.72],[217,4.62],[110,4.47],[305,4.42],[200,4.33],[110,4.15],[185,4.1],[218,4.1],[263,3.8],[315,3.67],[345,3.67],[132,3.57],[163,3.28],[228,3.23],[125,3.03],[178,3],[145,2.75],[165,2.37],[165,1.85],[190,1.6],[263,1.65],[275,1.7],[372,1.65],[198,1.4],[170,1.15],[148,1.05],[130,1],[185,0.92],[210,0.95],[155,0.8],[165,0.6],[192,0.68],[230,0.72],[240,0.78],[268,0.82],
[15,5.95],[25,6],[38,5.9],[45,5.92],[10,5.8],[8,5.6],[20,5.65],[5,5.4],[30,5.5],[18,5.4],[35,5.35],[3,5.2],[12,5.1],[6,4.95],[65,4.97],[58,4.85],[70,4.75],[2,4.85],[15,4.8],[40,4.75],[8,4.65],[25,4.6],[0,4.5],[50,4.5],[5,4.4],[18,4.35],[65,4.35],[35,4.3],[70,4.25],[1,4.2],[12,4.15],[28,4.1],[50,4.1],[4,4],[60,4.05],[20,3.95],[85,4.2],[90,4],[0,3.85],[10,3.85],[42,3.8],[7,3.7],[30,3.7],[70,3.65],[105,3.75],[95,3.6],[2,3.55],[16,3.55],[50,3.55],[85,3.55],[6,3.4],[25,3.4],[110,3.4],[100,3.4],[0,3.25],[12,3.25],[38,3.25],[60,3.2],[3,3.1],[20,3.1],[75,3.1],[8,2.95],[32,2.95],[68,2.95],[105,2.9],[95,2.85],[1,2.8],[15,2.8],[50,2.8],[5,2.65],[26,2.65],[62,2.55],[100,2.55],[0,2.5],[11,2.5],[40,2.45],[3,2.35],[18,2.35],[55,2.3],[7,2.2],[30,2.2],[0,2.05],[14,2.05],[65,2.05],[90,2],[4,1.9],[24,1.9],[45,1.9],[100,1.9],[75,1.85],[1,1.75],[10,1.75],[35,1.75],[60,1.7],[6,1.6],[18,1.6],[80,1.55],[110,1.55],[105,1.45],[0,1.45],[12,1.45],[28,1.45],[50,1.4],[70,1.35],[3,1.3],[20,1.3],[90,1.25],[100,1.2],[8,1.15],[40,1.15],[65,1.1],[80,1.1],[0,1],[15,1],[30,1],[4,0.85],[25,0.85],[55,0.85],[90,0.8],[10,0.7],[42,0.7],[70,0.65],[1,0.6],[18,0.55],[60,0.55],[85,0.5],[6,0.45],[30,0.45],[100,0.4],[110,0.4],[0,0.3],[13,0.3],[45,0.3],[3,0.15],[22,0.15],[9,0.1]];
const coverDense = [[2,5.75],[8,5.85],[4,5.55],[12,5.5],[3,5.3],[9,5.25],[15,5.2],[1,5.05],[7,5.05],[18,5],[4,4.9],[11,4.9],[22,4.9],[0,4.75],[6,4.75],[14,4.7],[30,4.8],[3,4.6],[10,4.55],[20,4.5],[1,4.45],[7,4.45],[15,4.45],[30,4.45],[4,4.3],[11,4.3],[24,4.3],[2,4.12],[8,4.15],[17,4.15],[38,4.15],[0,4],[6,4],[13,4],[25,4],[3,3.9],[10,3.9],[18,3.85],[32,3.85],[1,3.75],[7,3.75],[14,3.75],[22,3.7],[4,3.6],[11,3.6],[28,3.55],[38,3.55],[0,3.45],[8,3.45],[15,3.45],[20,3.4],[3,3.35],[11,3.3],[28,3.25],[45,3.3],[1,3.2],[6,3.2],[16,3.15],[36,3.1],[4,3.02],[10,3],[22,2.98],[42,2.95],[0,2.88],[7,2.85],[14,2.85],[28,2.85],[3,2.72],[10,2.7],[20,2.7],[38,2.7],[1,2.58],[6,2.55],[15,2.55],[30,2.5],[45,2.55],[4,2.42],[9,2.4],[22,2.4],[0,2.28],[7,2.25],[13,2.25],[38,2.2],[3,2.12],[10,2.1],[20,2.12],[32,2.05],[1,1.98],[6,1.98],[15,1.95],[40,1.85],[3,1.82],[9,1.85],[20,1.8],[0,1.68],[6,1.7],[14,1.65],[28,1.65],[4,1.55],[10,1.55],[22,1.55],[38,1.5],[1,1.38],[7,1.4],[16,1.35],[3,1.22],[10,1.25],[25,1.2],[0,1.1],[6,1.1],[14,1.15],[3,0.98],[9,0.95],[20,0.95],[1,0.82],[7,0.8],[15,0.75],[30,0.7],[4,0.68],[11,0.6],[0,0.52],[6,0.55],[20,0.4],[3,0.4],[9,0.35],[1,0.22],[6,0.2],[14,0.15]];
const coverMore = [[5,5.1],[12,5.02],[18,4.94],[2,4.96],[9,4.84],[20,4.78],[5,4.68],[12,4.62],[24,4.62],[1,4.58],[16,4.55],[8,4.38],[13,4.36],[22,4.4],[5,4.22],[15,4.24],[20,4.2],[3,4.07],[10,4.05],[22,4.08],[5,3.95],[15,3.92],[25,3.9],[2,3.82],[12,3.8],[20,3.78],[5,3.68],[9,3.66],[17,3.65],[26,3.65],[2,3.6],[14,3.58],[19,3.52],[6,3.52],[23,3.5],[3,3.46],[11,3.44],[17,3.36],[6,3.3],[14,3.28],[24,3.3],[3,3.22],[9,3.14],[20,3.22],[13,3.1],[28,3.1],[6,3.06],[17,3.02],[1,3.02],[12,2.95],[25,2.95],[4,2.92],[18,2.9],[10,2.85],[22,2.84],[5,2.78],[12,2.75],[26,2.75],[8,2.63],[17,2.64],[22,2.58],[3,2.55],[12,2.48],[26,2.48],[6,2.46],[17,2.42],[1,2.4],[11,2.32],[22,2.3],[4,2.25],[16,2.22],[26,2.22],[8,2.12],[14,2.14],[2,2.05],[10,1.98],[20,2],[5,1.92],[13,1.88],[25,1.85],[1,1.88],[7,1.8],[16,1.78],[3,1.72],[11,1.68],[22,1.68],[8,1.6],[17,1.52],[2,1.5],[13,1.5],[25,1.45],[5,1.45],[10,1.38],[20,1.42],[2,1.28],[7,1.25],[16,1.22],[13,1.22],[1,1.18],[10,1.12],[20,1.1],[4,1.05],[8,1.03],[17,1.02],[6,0.9],[12,0.88],[2,0.88],[22,0.85],[9,0.75],[4,0.74],[12,0.72],[1,0.7],[17,0.65],[7,0.62],[3,0.55],[13,0.5],[9,0.48],[1,0.42],[6,0.36],[15,0.35],[3,0.28],[11,0.2],[1,0.1],[5,0.08]];

const PANELS = [
 {name:'{a|Depth (m)}', zero:depthZero, pts:depthPts.concat(depthDense,depthMore), top:12, h:236, left:89, w:400.5, min:0, max:200, step:50, gap:36, lm:13, xPad:2, yPad:13},
 {name:'{m|Mud:sand ratio}', zero:mudZero, pts:mudPts.concat(mudDense,mudMore), top:326, h:235.3, left:88.5, w:417, min:0, max:20, step:5, gap:37, lm:15, xPad:12, yPad:6},
 {name:'{m|Temperature (°C)}', zero:tempZero, pts:tempPts.concat(tempDense,tempMore), top:641, h:234.7, left:88.5, w:418.2, min:-2, max:8, step:2, gap:38, lm:14, xPad:12, yPad:8},
 {name:'{m|Potential prey (kg ha}{s|–1}{m|)}', zero:preyZero, pts:preyPts.concat(preyDense,preyMore), top:955.3, h:237, left:88, w:407.7, min:0, max:250, step:50, gap:42, lm:16, xPad:0, yPad:0},
 {name:'{m|Potential cover (kg ha}{s|–1}{m|)}', zero:coverZero, pts:coverPts.concat(coverDense,coverMore), top:1271.7, h:236.6, left:89, w:411.3, min:0, max:1500, step:500, gap:40, lm:16, xPad:6, yPad:0}
];
const INK = '#2b2b2b';
const FONT = '"Liberation Sans", Arial, sans-serif';
const rich = {a:{fontSize:22.5,fontFamily:FONT,color:INK}, m:{fontSize:23.7,fontFamily:FONT,color:INK}, s:{fontSize:15.5,fontFamily:FONT,color:INK,padding:[0,0,10,0]}};
const axisBase = {
  axisLine:{onZero:false,lineStyle:{color:'#333',width:1}},
  axisTick:{show:true,length:7,lineStyle:{color:'#333',width:1}},
  splitLine:{show:false},
  nameLocation:'middle'
};
const labelBase = {fontSize:18.5,fontFamily:FONT,color:INK,hideOverlap:false,showMinLabel:true,showMaxLabel:true};
const XMARK = 'path://M0 0L10 10M10 0L0 10';
const option = {
  animation:false, backgroundColor:'#fff',
  grid:PANELS.map(p=>({left:p.left,top:p.top,width:p.w,height:p.h,containLabel:false,outerBoundsMode:'none'})),
  xAxis:PANELS.map((p,i)=>Object.assign({},axisBase,{type:'value',gridIndex:i,min:p.min,max:p.max,interval:p.step,name:p.name,nameGap:p.gap,nameTextStyle:{rich,padding:[0,p.xPad,0,0]},
     axisLabel:Object.assign({},labelBase,{margin:p.lm,formatter:v=>String(v).replace('-','–')})})),
  yAxis:PANELS.map((p,i)=>Object.assign({},axisBase,{type:'value',gridIndex:i,min:0,max:8,interval:1,name:'{m|CPUE (no. ha}{s|–1}{m|)}',nameGap:47,nameRotate:90,nameTextStyle:{rich,padding:[0,p.yPad,0,0]},
     axisLabel:Object.assign({},labelBase,{margin:15,formatter:v=>String(yTicks[v])})})),
  series:PANELS.map((p,i)=>({type:'scatter',xAxisIndex:i,yAxisIndex:i,clip:false,symbol:XMARK,symbolSize:6,silent:true,
     itemStyle:{color:'rgba(0,0,0,0)',borderColor:'#141414',borderWidth:1.25,opacity:1},
     data:p.zero.map(x=>[x,0]).concat(p.pts)}))
};
echarts.init(document.getElementById('c'),null,{renderer:'canvas'}).setOption(option);
</script></body></html>
